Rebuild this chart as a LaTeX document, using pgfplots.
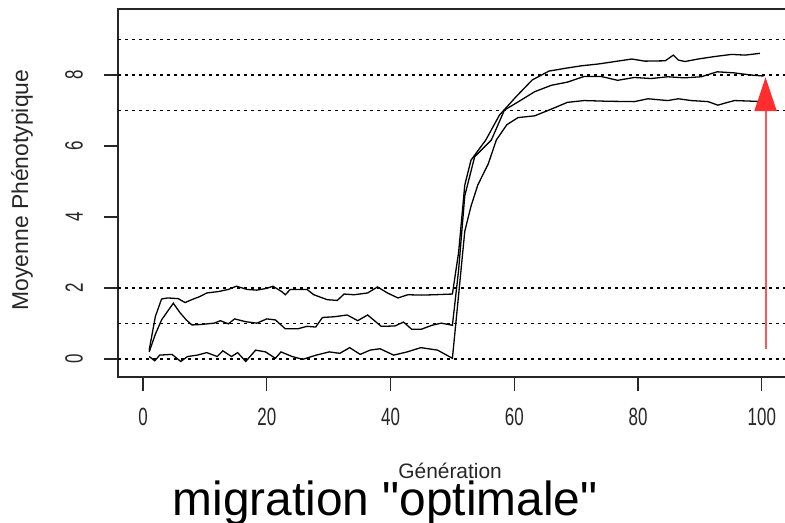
\documentclass[border=0pt]{standalone}
\usepackage{fontspec}
\setmainfont{Liberation Sans}
\newfontfamily\narrowfont{Liberation Sans}[FakeStretch=0.68]
\newfontfamily\titlefont{Liberation Sans}[Ligatures=TeXOff]
\usepackage{pgfplots}
\pgfplotsset{compat=1.18}
\usetikzlibrary{arrows.meta}
\definecolor{arrowline}{RGB}{255,85,85}
\definecolor{arrowhead}{RGB}{255,45,45}
\begin{document}
\begin{tikzpicture}
\begin{axis}[
  name=ax,
  scale only axis,
  width=675bp, height=368bp,
  xmin=-4.04, xmax=105.04,
  ymin=-0.507, ymax=9.859,
  axis line style={line width=1.4bp, black!85},
  xtick={0,20,40,60,80,100},
  xticklabels={0,20,40,60,80,100},
  ytick={0,2,4,6,8},
  yticklabels={0,2,4,6,8},
  xtick pos=left, ytick pos=left,
  tick align=outside,
  major tick length=14bp,
  tick style={line width=1.2bp, black!85},
  minor tick num=0,
  x tick label style={font=\narrowfont\fontsize{25}{25}\selectfont, anchor=north, inner sep=0pt, text=black!85},
  y tick label style={font=\narrowfont\fontsize{25}{25}\selectfont, rotate=90, anchor=south, inner sep=0pt, text=black!85},
  xticklabel shift=17bp,
  yticklabel shift=21bp,
  xlabel={Génération},
  ylabel={Moyenne Phénotypique},
  every axis x label/.style={at={(axis description cs:0.492,-0.2745)}, anchor=base, font=\fontsize{21}{21}\selectfont, text=black!85},
  every axis y label/.style={at={(axis description cs:-0.1422,0.508)}, rotate=90, anchor=center, font=\fontsize{23}{23}\selectfont, text=black!85},
  clip=true,
]
% dotted reference lines
\foreach \yv in {0,1,2,7,8,9} {
  \edef\tmp{\noexpand\addplot[black, line width=1.6bp, dash pattern=on 3bp off 4bp, forget plot] coordinates {(-4.04,\yv) (105.04,\yv)};}
  \tmp
}
% series A: ~1.8 -> ~8.6
\addplot[black, line width=1.3bp] coordinates {
(1,0.25) (2,1.2) (3,1.69) (4,1.72) (5.7,1.70) (6.8,1.59) (8,1.68) (9.2,1.76) (10.3,1.86) (12.2,1.9) (13.8,1.96) (15.1,2.05) (16.8,1.96) (18.4,1.94) (20,1.99) (21,2.05) (22.4,1.9) (23,1.81) (23.8,1.96) (26.5,1.96) (27.6,1.81) (29.8,1.67) (31.4,1.65) (32.5,1.83) (34.1,1.81) (36.3,1.86) (37.9,2.03) (39.5,1.86) (41.2,1.72) (42.8,1.81) (45,1.8) (47.1,1.81) (50,1.83)
(51,3.0) (52,4.9) (53,5.6) (55.4,6.17) (57.6,6.87) (60.3,7.39) (62.9,7.86) (65.6,8.11) (68.3,8.19) (70.9,8.26) (73.6,8.31) (76.3,8.38) (79,8.45) (81.1,8.39) (84.4,8.4) (85.7,8.56) (86.5,8.42) (87.6,8.38) (89.7,8.45) (92.4,8.52) (95.1,8.58) (97.3,8.56) (99.7,8.61)
};
% series B: ~1 -> ~8
\addplot[black, line width=1.3bp] coordinates {
(1,0.2) (2,0.7) (3,1.1) (4,1.35) (4.9,1.57) (6,1.3) (7,1.1) (7.9,0.96) (9.2,0.97) (11.5,1.01) (12.5,1.08) (13.8,0.99) (14.8,1.13) (16.6,1.05) (18.4,1.01) (20,1.13) (21.4,1.1) (23,0.85) (25,0.85) (26.5,0.92) (27.9,0.9) (29,1.17) (30.9,1.19) (33,1.24) (34.7,1.08) (36.3,1.24) (38.5,0.92) (40.7,0.93) (42.1,1.04) (43.4,0.84) (45,0.84) (46.7,0.95) (48.2,1.01) (50,0.95)
(51,2.5) (52,4.6) (53.6,5.7) (56.3,6.17) (58.4,7.01) (60.6,7.24) (63.3,7.53) (66,7.71) (68.6,7.8) (71.3,7.96) (74,7.96) (76.7,7.85) (79.4,7.93) (82.1,7.9) (84.8,7.95) (87.5,7.92) (90.2,7.95) (92.8,8.09) (95.5,8.06) (98.2,8.0) (100.3,7.97)
};
% series C: ~0.1 -> ~7.3
\addplot[black, line width=1.3bp] coordinates {
(1,0.07) (1.9,-0.05) (2.7,0.11) (4.7,0.13) (6.1,-0.07) (7.2,0.07) (8.8,0.11) (10.3,0.18) (12,0.07) (12.9,0.23) (14.3,0.07) (15.3,0.18) (16.6,-0.07) (18.2,0.25) (19.8,0.2) (21.4,0.02) (22.3,0.2) (24.1,0.07) (25.8,-0.01) (28,0.11) (30.1,0.2) (31.8,0.16) (33.4,0.32) (35.1,0.13) (36.7,0.25) (38.3,0.29) (40.5,0.11) (42.7,0.2) (44.9,0.32) (47.6,0.25) (50,0.02)
(51,1.8) (52,3.6) (53,4.3) (54.1,4.9) (55.8,5.5) (57.1,6.17) (58.8,6.6) (60.6,6.8) (63.3,6.85) (66,7.04) (68.6,7.23) (71.3,7.28) (75.1,7.26) (79.4,7.25) (81.6,7.33) (84.8,7.28) (86.5,7.33) (88.6,7.28) (91.3,7.25) (92.9,7.15) (94.5,7.23) (95.6,7.28) (98.8,7.26) (99.9,7.25)
};
% red arrow
\addplot[color=arrowline, line width=2bp, -{Triangle[width=22bp,length=34bp,color=arrowhead,fill=arrowhead]}] coordinates {(100.6,0.28) (100.6,7.94)};
\end{axis}
\node[anchor=base, font=\titlefont\fontsize{48}{48}\selectfont, inner sep=0pt] at (267bp,-138bp) {migration "optimale"};
\pgfresetboundingbox
\path[use as bounding box] (-118bp,-146bp) rectangle (667bp,377bp);
\end{tikzpicture}
\end{document}
